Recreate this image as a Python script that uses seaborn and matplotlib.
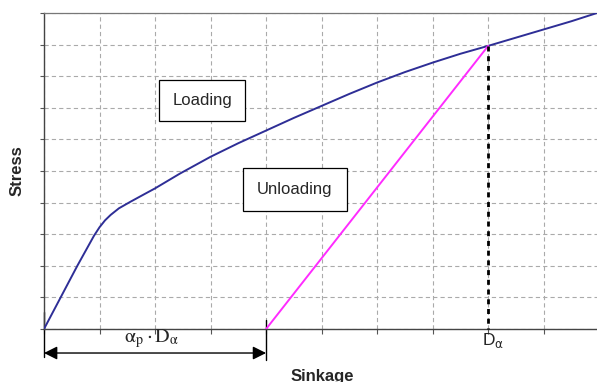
import numpy as np
import pandas as pd
import matplotlib
matplotlib.use("Agg")
import matplotlib.pyplot as plt
import seaborn as sns

# loading curve (grid units, 10 x 10)
load_x = [0, 0.3, 0.6, 0.9, 1.0, 1.1, 1.2, 1.35, 1.55, 1.8, 2.0, 2.45, 3.0,
          3.5, 4.0, 4.5, 5.0, 5.5, 6.0, 6.5, 7.0, 7.5, 8.0, 8.5, 9.0, 9.5, 9.96]
load_y = [0, 1.0, 2.0, 2.95, 3.22, 3.44, 3.61, 3.82, 4.02, 4.26, 4.45, 4.92, 5.45,
          5.88, 6.28, 6.68, 7.06, 7.44, 7.8, 8.13, 8.43, 8.71, 8.96, 9.22, 9.48, 9.74, 10.0]

# unloading line from residual sinkage to D_alpha
unload_x = [4.0, 8.0]
unload_y = [0.0, 8.96]

d_alpha = 8.0
residual = 4.0

sns.set_theme(style="ticks")
plt.rcParams["font.family"] = ["Liberation Sans", "DejaVu Sans"]

fig = plt.figure(figsize=(5.97, 3.82), dpi=100)
ax = fig.add_axes([44 / 597, 53 / 382, 553 / 597, 316 / 382])

load = pd.DataFrame({"x": load_x, "y": load_y})
unload = pd.DataFrame({"x": unload_x, "y": unload_y})

sns.lineplot(data=load, x="x", y="y", color="#2e2e96", lw=1.4, ax=ax, zorder=3)
sns.lineplot(data=unload, x="x", y="y", color="#ff2bff", lw=1.4, ax=ax, zorder=3)
ax.plot([d_alpha, d_alpha], [unload_y[-1], 0], color="black", lw=2.0,
        linestyle=(0, (1.8, 1.7)), zorder=4, clip_on=False)

ax.set_xlim(0, 9.96)
ax.set_ylim(0, 10)
ax.set_xticks(range(0, 10))
ax.set_yticks(range(0, 11))
ax.set_xticklabels([])
ax.set_yticklabels([])
ax.grid(True, linestyle=(0, (3.8, 2.8)), color="#aaaaaa", lw=0.8, zorder=0)
ax.tick_params(axis="x", direction="out", length=3.6, width=0.8, color="#555555")
ax.tick_params(axis="y", direction="out", length=3, width=0.8, color="#555555")

for side in ["left", "bottom"]:
    ax.spines[side].set_color("#444444")
    ax.spines[side].set_linewidth(1.0)
ax.spines["top"].set_color("#777777")
ax.spines["top"].set_linewidth(0.9)
ax.spines["right"].set_visible(False)

ax.set_xlabel("Sinkage", fontsize=12, fontweight="bold")
ax.set_ylabel("Stress", fontsize=12, fontweight="bold")
ax.xaxis.set_label_coords(0.504, -0.128)
ax.yaxis.set_label_coords(-0.036, 0.5)

box = dict(boxstyle="square,pad=0.8", fc="white", ec="black", lw=0.9)
ax.text(2.85, 7.23, "Loading", fontsize=12, ha="center", va="center",
        bbox=box, zorder=5)
box2 = dict(boxstyle="square,pad=0.85", fc="white", ec="black", lw=0.9)
ax.text(4.52, 4.41, "Unloading", fontsize=12, ha="center", va="center",
        bbox=box2, zorder=5)

# dimension arrow for alpha_p * D_alpha
ax.plot([0, 0], [0.55, -0.9], color="black", lw=1.0, clip_on=False)
ax.plot([residual, residual], [0.3, -0.98], color="black", lw=1.0, clip_on=False)
ax.annotate("", xy=(0, -0.76), xytext=(residual, -0.76),
            arrowprops=dict(arrowstyle="<|-|>,head_length=0.5,head_width=0.25",
                            color="black", lw=1.0, shrinkA=0, shrinkB=0,
                            mutation_scale=16),
            annotation_clip=False)
ax.text(1.94, -0.3, r"$\mathrm{\alpha_p \cdot D_\alpha}$", fontsize=14.5,
        ha="center", va="center", math_fontfamily="stix", clip_on=False)
ax.text(7.89, -0.36, r"D$_\mathrm{\alpha}$", fontsize=12.5, ha="left", va="center",
        math_fontfamily="dejavusans", clip_on=False)

fig.savefig("out.png", dpi=100)
